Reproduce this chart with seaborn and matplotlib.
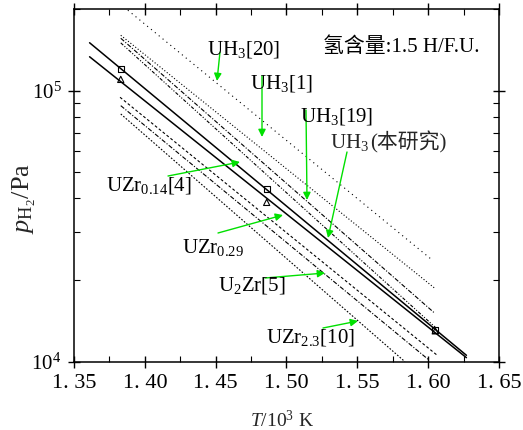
import numpy as np
import pandas as pd
import matplotlib
matplotlib.use("Agg")
import matplotlib.pyplot as plt
import seaborn as sns
from matplotlib.ticker import LogLocator, NullFormatter, AutoMinorLocator

# ---------------- data ----------------
# this study: 10^3/T and plateau pressure (Pa)
inv_T = [1.383, 1.486, 1.605]
p_UH3 = [1.20e5, 4.35e4, 1.31e4]
p_UZr029 = [1.10e5, 3.87e4, 1.30e4]
fit_x = [1.361, 1.627]

# literature van't Hoff lines (end points)
ref_names = ["UH3[20]", "UH3[1]", "UH3[19]", "UZr0.14[4]", "ref_e", "U2Zr[5]", "UZr2.3[10]"]
ref_x0 = [1.388, 1.383, 1.383, 1.383, 1.3825, 1.383, 1.383]
ref_p0 = [1.98e5, 1.60e5, 1.56e5, 1.50e5, 9.45e4, 8.8e4, 8.2e4]
ref_x1 = [1.6025, 1.605, 1.604, 1.605, 1.606, 1.600, 1.5836]
ref_p1 = [2.38e4, 1.86e4, 1.52e4, 1.34e4, 1.06e4, 1.02e4, 1.0e4]

x_ticks = [1.35, 1.40, 1.45, 1.50, 1.55, 1.60, 1.65]
x_tick_labels = ["1. 35", "1. 40", "1. 45", "1. 50", "1. 55", "1. 60", "1. 65"]

# ---------------- style ----------------
sns.set_theme(style="ticks")
plt.rcParams["font.family"] = ["Liberation Serif", "Noto Sans CJK SC"]
plt.rcParams["mathtext.fontset"] = "custom"
plt.rcParams["mathtext.rm"] = "Liberation Serif"
plt.rcParams["mathtext.it"] = "Liberation Serif:italic"
plt.rcParams["mathtext.bf"] = "Liberation Serif:bold"

W, H = 523, 430
fig = plt.figure(figsize=(W / 100, H / 100), dpi=100)
ax = fig.add_axes([74 / W, (H - 361.7) / H, 425 / W, (361.7 - 9) / H])
ax.set_yscale("log")
ax.set_xlim(1.35, 1.65)
ax.set_ylim(1e4, 2e5)

ref_styles = [
    (0, (1.0, 3.5)),
    (0, (1.0, 1.8)),
    (0, (4, 1.5, 1, 1.5)),
    (0, (3, 1.5, 1, 1.5, 1, 1.5)),
    (0, (2.5, 2)),
    (0, (4, 1.5, 1, 1.5)),
    (0, (1.5, 1.5)),
]
for i, name in enumerate(ref_names):
    d = pd.DataFrame({"x": [ref_x0[i], ref_x1[i]], "p": [ref_p0[i], ref_p1[i]]})
    sns.lineplot(data=d, x="x", y="p", ax=ax, color="black", lw=0.8,
                 linestyle=ref_styles[i], estimator=None, sort=False)

for p, mk in [(p_UH3, "s"), (p_UZr029, "^")]:
    coef = np.polyfit(inv_T, np.log10(p), 1)
    fx = np.array(fit_x)
    fy = 10 ** np.polyval(coef, fx)
    sns.lineplot(x=fx, y=fy, ax=ax, color="black", lw=1.1, estimator=None, sort=False)
    sns.scatterplot(x=inv_T, y=p, ax=ax, marker=mk, s=20, facecolor="none",
                    edgecolor="black", linewidth=0.8, zorder=5)

# ticks
ax.set_xticks(x_ticks)
ax.set_xticklabels(x_tick_labels)
ax.xaxis.set_minor_locator(AutoMinorLocator(2))
ax.yaxis.set_major_locator(LogLocator(base=10, numticks=5))
ax.yaxis.set_minor_locator(LogLocator(base=10, subs=np.arange(2, 10), numticks=20))
ax.yaxis.set_minor_formatter(NullFormatter())
ax.tick_params(which="both", top=True, right=True, colors="black")
ax.tick_params(which="major", direction="inout", length=8, width=1.0, pad=5)
ax.tick_params(which="minor", direction="in", length=4, width=0.8)
ax.tick_params(axis="x", which="major", labelsize=16)
ax.tick_params(axis="y", which="major", labelsize=15)
for s in ax.spines.values():
    s.set_linewidth(1.1)
    s.set_color("black")
ax.set_xlabel("")
ax.set_ylabel("")

# axis titles (placed in reference pixel positions)
fig.text(38 / W, 1 - 199 / H, r"$p_{\mathrm{H_2}}$/Pa", rotation=90, ha="right",
         va="center", fontsize=19)
fig.text(282 / W, 1 - 410 / H, r"$T$/10$^3$ K", ha="center", va="top", fontsize=14)

# labels
green = "#00e000"
labels = [
    ("UH$_3$[20]", 207, 55),
    ("UH$_3$[1]", 250, 88),
    ("UH$_3$[19]", 300, 122),
    ("氢含量:1.5 H/F.U.", 323, 52),
    ("UZr$_{0.14}$[4]", 106, 190),
    ("UZr$_{0.29}$", 182, 253),
    ("U$_2$Zr[5]", 218, 291),
    ("UZr$_{2.3}$[10]", 266, 343),
]
for t, px, py in labels:
    fig.text(px / W, 1 - py / H, t, ha="left", va="baseline", fontsize=15, color="black")

# "UH3(本研究)" built from two pieces so the CJK part can fall back to a CJK font
t1 = fig.text(330 / W, 1 - 148 / H, "UH$_3$", ha="left", va="baseline", fontsize=15)
fig.canvas.draw()
bb = t1.get_window_extent(renderer=fig.canvas.get_renderer())
fig.text((bb.x1 + 1) / W, 1 - 148 / H, "(本研究)", ha="left", va="baseline", fontsize=15)

arrows = [
    ((220, 52), (217, 81)),
    ((262, 76), (262, 137)),
    ((306, 110), (307, 200)),
    ((347, 152), (328, 238)),
    ((168, 176), (240, 162)),
    ((218, 233), (283, 215)),
    ((265, 278), (325, 273)),
    ((323, 328), (358, 321)),
]
for (sx, sy), (tx, ty) in arrows:
    ax.annotate("", xy=(tx, H - ty), xycoords="figure pixels",
                xytext=(sx, H - sy), textcoords="figure pixels",
                arrowprops=dict(arrowstyle="-|>", color=green, lw=1.0,
                                mutation_scale=11, shrinkA=0, shrinkB=0))

fig.savefig("out.png", dpi=100)
